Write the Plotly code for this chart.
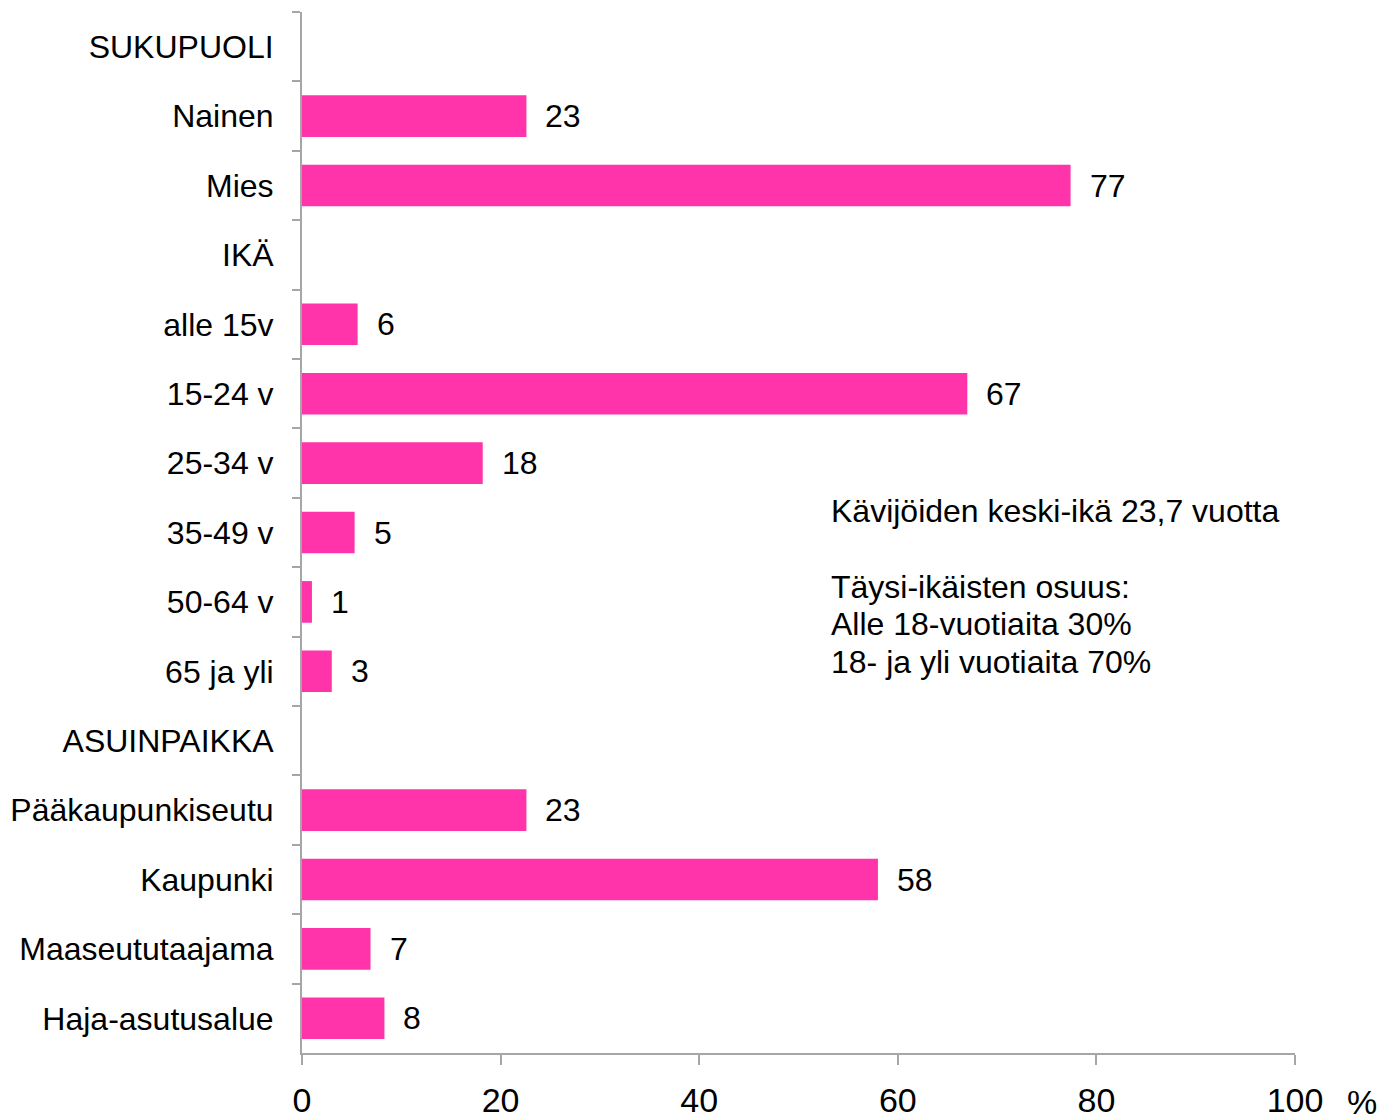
import plotly.graph_objects as go

categories = ["SUKUPUOLI", "Nainen", "Mies", "IKÄ", "alle 15v", "15-24 v", "25-34 v",
              "35-49 v", "50-64 v", "65 ja yli", "ASUINPAIKKA", "Pääkaupunkiseutu",
              "Kaupunki", "Maaseututaajama", "Haja-asutusalue"]
values = [None, 22.6, 77.4, None, 5.6, 67.0, 18.2, 5.3, 1.0, 3.0, None, 22.6, 58.0, 6.9, 8.3]
value_labels = ["", "23", "77", "", "6", "67", "18", "5", "1", "3", "", "23", "58", "7", "8"]
x_ticks = [0, 20, 40, 60, 80, 100]
note_lines = ["Kävijöiden keski-ikä 23,7 vuotta", "", "Täysi-ikäisten osuus:",
              "Alle 18-vuotiaita 30%", "18- ja yli vuotiaita 70%"]

W, H = 1383, 1117
PL, PT, PW, PH = 302, 12, 993, 1041
L, T = PL, PT
R = W - PL - PW
B = H - PT - PH
FONT = "Liberation Sans, Arial, sans-serif"
GREY = "#A6A6A6"

fig = go.Figure()
fig.add_trace(go.Bar(
    y=categories, x=values, orientation="h",
    marker=dict(color="#FF33AA", line=dict(width=0)),
    hoverinfo="skip",
))

for c, v, t in zip(categories, values, value_labels):
    if v is None:
        continue
    fig.add_annotation(x=v, y=c, xref="x", yref="y", text=t, showarrow=False,
                       xanchor="left", yanchor="middle", xshift=17,
                       font=dict(family=FONT, size=32, color="black"))

# note block: line centres in reference pixels
first_c, step = 511, 37.8
for i, line in enumerate(note_lines):
    if not line:
        continue
    yc = first_c + step * i
    fig.add_annotation(x=(829 - PL) / PW, y=(PT + PH - yc) / PH,
                       xref="paper", yref="paper", text=line,
                       showarrow=False, xanchor="left", yanchor="middle", align="left",
                       font=dict(family=FONT, size=32, color="black"))

fig.add_annotation(x=1, y=0, xref="paper", yref="paper", text="%", showarrow=False,
                   xanchor="left", yanchor="middle", xshift=50, yshift=-49,
                   font=dict(family=FONT, size=34, color="black"))

fig.update_layout(
    width=W, height=H,
    margin=dict(l=L, r=R, t=T, b=B, pad=0, autoexpand=False),
    paper_bgcolor="white", plot_bgcolor="white",
    bargap=0.4, showlegend=False,
    font=dict(family=FONT, color="black"),
)
fig.update_xaxes(range=[0, 100], tickvals=x_ticks, ticks="outside", ticklen=10,
                 tickwidth=2, tickcolor=GREY, showline=True, linecolor=GREY, linewidth=2,
                 showgrid=False, zeroline=False, tickfont=dict(family=FONT, size=34),
                 ticklabelstandoff=6, automargin=False)
fig.update_yaxes(categoryorder="array", categoryarray=categories, autorange="reversed",
                 ticks="outside", tickson="boundaries", ticklen=8, tickwidth=2,
                 tickcolor=GREY, showline=True, linecolor=GREY, linewidth=2,
                 showgrid=False, zeroline=False, tickfont=dict(family=FONT, size=32),
                 ticklabelstandoff=20, automargin=False)

fig.write_html("out.html", config={"displayModeBar": False},
               post_script="document.body.style.margin='0';document.body.style.overflow='hidden';")
